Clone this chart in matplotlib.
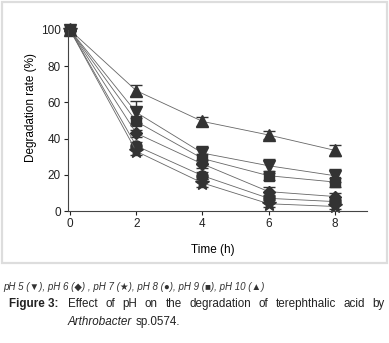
import matplotlib
matplotlib.use('Agg')
import matplotlib.pyplot as plt
from matplotlib.patches import Rectangle

TEXT_FONT = ['Liberation Sans Narrow', 'Liberation Sans', 'DejaVu Sans']
MARK_COLOR = '#333333'
LINE_COLOR = '#666666'
FIG_W, FIG_H = 389, 343

times = [0, 2, 4, 6, 8]
ph5 = [100, 54.5, 32, 25, 19.5]
ph6 = [100, 43, 26, 10.7, 8]
ph7 = [100, 33, 15.5, 4, 2.5]
ph8 = [100, 36, 19.5, 7, 5.2]
ph9 = [100, 49.5, 29, 19.5, 16]
ph10 = [100, 66.5, 49.5, 42, 33.5]

ph5_err = [0, 6, 4, 4, 3.5]
ph6_err = [0, 2, 2, 2.5, 2]
ph7_err = [0, 2, 2, 2, 1.5]
ph8_err = [0, 2, 2, 2, 1.5]
ph9_err = [0, 2, 2.5, 2.5, 2.5]
ph10_err = [0, 3, 2.5, 2, 3]

series = [
    (ph10, ph10_err, '^'),
    (ph5, ph5_err, 'v'),
    (ph9, ph9_err, 's'),
    (ph6, ph6_err, 'D'),
    (ph8, ph8_err, 'o'),
    (ph7, ph7_err, '*'),
]
marker_sizes = {'^': 8, 'v': 8, 's': 7, 'D': 6, 'o': 8, '*': 10}

legend_line = 'pH 5 (▼), pH 6 (◆) , pH 7 (★), pH 8 (●), pH 9 (■), pH 10 (▲)'
caption_words = ['Effect', 'of', 'pH', 'on', 'the', 'degradation', 'of', 'terephthalic', 'acid', 'by']

plt.rcParams['font.family'] = TEXT_FONT

fig = plt.figure(figsize=(3.89, 3.43), dpi=100)
fig.patches.append(Rectangle((2 / FIG_W, 1 - 263 / FIG_H), 385 / FIG_W, 261 / FIG_H,
                             transform=fig.transFigure, fill=False,
                             edgecolor='#dddddd', linewidth=1.6))

ax = fig.add_axes([68 / FIG_W, 1 - 211 / FIG_H, 299 / FIG_W, 181 / FIG_H])
for values, errs, marker in series:
    ax.errorbar(times, values, yerr=errs, color=LINE_COLOR, linewidth=0.6,
                marker=marker, markersize=marker_sizes[marker],
                markerfacecolor=MARK_COLOR, markeredgecolor=MARK_COLOR,
                ecolor=MARK_COLOR, elinewidth=1.0, capsize=4.5, capthick=1.0,
                clip_on=False)

ax.set_xlim(-0.06, 8.97)
ax.set_ylim(0, 100)
ax.set_xticks([0, 2, 4, 6, 8])
ax.set_yticks([0, 20, 40, 60, 80, 100])
ax.spines['top'].set_visible(False)
ax.spines['right'].set_visible(False)
for side in ['left', 'bottom']:
    ax.spines[side].set_linewidth(0.8)
    ax.spines[side].set_color('#444444')
ax.tick_params(direction='out', length=3, width=0.8, labelsize=8.5, colors='#222222', pad=2)
ax.set_xlabel('Time (h)', fontsize=8.5)
ax.set_ylabel('Degradation rate (%)', fontsize=8.5)
ax.xaxis.set_label_coords(0.485, -0.18)
ax.yaxis.set_label_coords(-0.105, 0.57)

fig.text(3 / FIG_W, 1 - 287 / FIG_H, legend_line,
         fontsize=7.0, style='italic', color='#333333', va='center')
fig.text(9 / FIG_W, 1 - 304 / FIG_H, 'Figure 3:', fontsize=8.4, weight='bold',
         color='#222222', va='center')

# justify the first caption line between x=68 and x=385
renderer = fig.canvas.get_renderer()
word_texts = [fig.text(0, 1 - 304 / FIG_H, word, fontsize=8.4, color='#222222', va='center')
              for word in caption_words]
widths = [t.get_window_extent(renderer).width for t in word_texts]
gap = (385 - 68 - sum(widths)) / (len(caption_words) - 1)
x_pos = 68
for t, w in zip(word_texts, widths):
    t.set_x(x_pos / FIG_W)
    x_pos += w + gap

italic_word = fig.text(68 / FIG_W, 1 - 322 / FIG_H, 'Arthrobacter', fontsize=8.4,
                       style='italic', color='#222222', va='center')
italic_w = italic_word.get_window_extent(renderer).width
fig.text((68 + italic_w + 3) / FIG_W, 1 - 322 / FIG_H, 'sp.0574.', fontsize=8.4,
         color='#222222', va='center')

fig.savefig('out.png', dpi=100)
